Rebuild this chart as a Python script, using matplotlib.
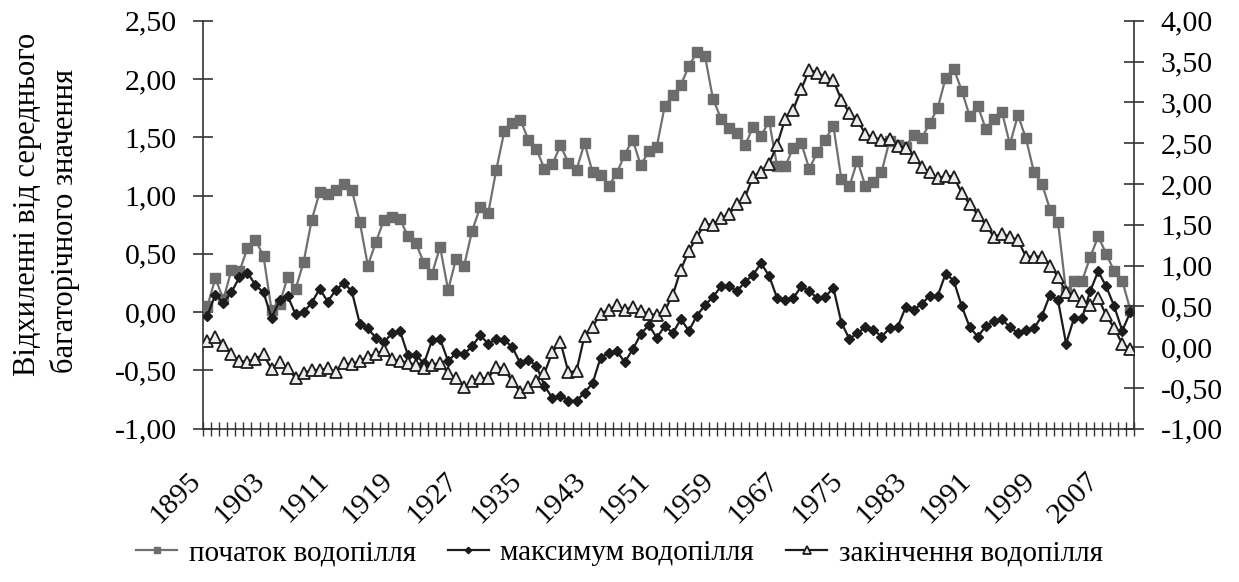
import numpy as np
import matplotlib.pyplot as plt
from matplotlib.transforms import ScaledTranslation

plt.rcParams['font.family'] = ['Liberation Serif', 'DejaVu Serif']

years = np.arange(1895, 2011)

# початок водопілля (left axis)
start = [0.05, 0.29, 0.11, 0.36, 0.35, 0.55, 0.62, 0.48, 0.02, 0.07,
         0.30, 0.20, 0.43, 0.79, 1.03, 1.01, 1.05, 1.10, 1.05, 0.77,
         0.40, 0.60, 0.79, 0.82, 0.80, 0.65, 0.59, 0.42, 0.33, 0.56,
         0.19, 0.46, 0.40, 0.70, 0.90, 0.85, 1.22, 1.55, 1.62, 1.65,
         1.48, 1.40, 1.23, 1.27, 1.43, 1.28, 1.22, 1.45, 1.20, 1.18,
         1.08, 1.19, 1.35, 1.48, 1.26, 1.38, 1.42, 1.77, 1.86, 1.95,
         2.11, 2.23, 2.20, 1.83, 1.66, 1.58, 1.54, 1.43, 1.59, 1.51,
         1.64, 1.25, 1.25, 1.41, 1.45, 1.23, 1.37, 1.48, 1.60, 1.14,
         1.08, 1.30, 1.08, 1.12, 1.20, 1.47, 1.43, 1.42, 1.52, 1.49,
         1.62, 1.75, 2.01, 2.09, 1.90, 1.68, 1.77, 1.57, 1.66, 1.72,
         1.44, 1.69, 1.49, 1.20, 1.10, 0.88, 0.77, 0.17, 0.27, 0.27,
         0.47, 0.65, 0.50, 0.35, 0.27, 0.02]

# максимум водопілля (left axis)
peak = [-0.03, 0.15, 0.08, 0.17, 0.30, 0.34, 0.23, 0.17, -0.05, 0.10,
        0.14, -0.02, 0.00, 0.08, 0.20, 0.09, 0.19, 0.25, 0.18, -0.10,
        -0.14, -0.22, -0.26, -0.18, -0.16, -0.37, -0.37, -0.44, -0.24, -0.23,
        -0.42, -0.35, -0.36, -0.29, -0.20, -0.27, -0.23, -0.24, -0.30, -0.44,
        -0.41, -0.46, -0.63, -0.74, -0.72, -0.76, -0.76, -0.69, -0.61, -0.39,
        -0.35, -0.33, -0.43, -0.32, -0.19, -0.11, -0.22, -0.12, -0.18, -0.06,
        -0.16, -0.03, 0.06, 0.13, 0.22, 0.22, 0.18, 0.26, 0.32, 0.42,
        0.31, 0.12, 0.10, 0.12, 0.22, 0.18, 0.12, 0.13, 0.21, -0.09,
        -0.23, -0.18, -0.13, -0.15, -0.21, -0.14, -0.13, 0.04, 0.02, 0.07,
        0.14, 0.14, 0.33, 0.27, 0.05, -0.13, -0.21, -0.12, -0.08, -0.06,
        -0.13, -0.18, -0.15, -0.14, -0.03, 0.15, 0.10, -0.27, -0.05, -0.05,
        0.18, 0.35, 0.22, 0.05, -0.16, 0.00]

# закінчення водопілля (right axis)
end = [0.07, 0.12, 0.03, -0.09, -0.17, -0.18, -0.14, -0.09, -0.27, -0.18,
       -0.26, -0.38, -0.32, -0.28, -0.28, -0.26, -0.31, -0.20, -0.21, -0.17,
       -0.12, -0.08, -0.04, -0.15, -0.17, -0.19, -0.22, -0.25, -0.22, -0.19,
       -0.32, -0.38, -0.49, -0.42, -0.38, -0.38, -0.24, -0.27, -0.42, -0.55,
       -0.49, -0.42, -0.32, -0.06, 0.06, -0.31, -0.29, 0.14, 0.25, 0.41,
       0.46, 0.51, 0.46, 0.49, 0.44, 0.41, 0.39, 0.45, 0.64, 0.95,
       1.18, 1.35, 1.51, 1.50, 1.58, 1.63, 1.75, 1.84, 2.09, 2.15,
       2.25, 2.48, 2.80, 2.91, 3.16, 3.40, 3.36, 3.31, 3.27, 3.03,
       2.87, 2.78, 2.61, 2.57, 2.54, 2.55, 2.47, 2.44, 2.33, 2.21,
       2.14, 2.07, 2.10, 2.09, 1.89, 1.75, 1.62, 1.50, 1.35, 1.39,
       1.35, 1.31, 1.11, 1.11, 1.11, 1.00, 0.86, 0.67, 0.64, 0.56,
       0.52, 0.60, 0.39, 0.23, 0.04, -0.02]

left_ticks = [-1.0, -0.5, 0.0, 0.5, 1.0, 1.5, 2.0, 2.5]
right_ticks = [-1.0, -0.5, 0.0, 0.5, 1.0, 1.5, 2.0, 2.5, 3.0, 3.5, 4.0]
label_step = 8

series_names = ['початок водопілля', 'максимум водопілля', 'закінчення водопілля']


def fmt(v):
    return f'{v:.2f}'.replace('.', ',')


fs = 21.5
fig = plt.figure(figsize=(12.39, 5.82), dpi=100)
ax = fig.add_axes([0.1641, 0.2634, 0.7514, 0.7010])
ax2 = ax.twinx()

x = np.arange(len(years))
axis_col = '#333333'

l1, = ax.plot(x, start, color='#707070', lw=1.6, marker='s', ms=6.5,
              mfc='#6c6c6c', mec='#6c6c6c', zorder=3)
l2, = ax.plot(x, peak, color='#1c1c1c', lw=1.6, marker='D', ms=5,
              mfc='#1c1c1c', mec='#1c1c1c', zorder=4)
l3, = ax2.plot(x, end, color='#1c1c1c', lw=1.6, marker='^', ms=8.3,
               mfc='#ececec', mec='#1c1c1c', mew=1.3, zorder=5)

ax.set_xlim(-0.5, len(years) - 0.5)
ax.set_ylim(left_ticks[0], left_ticks[-1])
ax2.set_ylim(right_ticks[0], right_ticks[-1])

for a in (ax, ax2):
    for s in a.spines.values():
        s.set_visible(False)
        s.set_color(axis_col)
        s.set_linewidth(1.2)
ax.spines['left'].set_visible(True)
ax.spines['bottom'].set_visible(True)
ax2.spines['right'].set_visible(True)

ax.set_yticks(left_ticks, [fmt(v) for v in left_ticks])
ax2.set_yticks(right_ticks, [fmt(v) for v in right_ticks])
ax.tick_params(axis='y', direction='inout', length=14, width=1.2,
               color=axis_col, labelsize=fs, pad=12)
ax2.tick_params(axis='y', direction='inout', length=14, width=1.2,
                color=axis_col, labelsize=fs, pad=12)

# category boundaries carry the tick marks, every 8th year carries a label
ax.set_xticks(np.arange(-0.5, len(years), 1.0), [''] * (len(years) + 1))
ax.set_xticks(x[::label_step], [str(y) for y in years[::label_step]], minor=True)
ax.tick_params(axis='x', which='major', direction='inout', length=10,
               width=1.0, color=axis_col)
ax.tick_params(axis='x', which='minor', length=0, labelsize=fs, pad=28)
shift = ScaledTranslation(-0.2, 0, fig.dpi_scale_trans)
for lab in ax.get_xticklabels(minor=True):
    lab.set_rotation(45)
    lab.set_ha('right')
    lab.set_va('top')
    lab.set_rotation_mode('anchor')
    lab.set_transform(lab.get_transform() + shift)

fig.text(27 / 1239, 1 - 376 / 582, 'Відхиленні від середнього', rotation=90,
         rotation_mode='anchor', ha='left', va='center', fontsize=22)
fig.text(65 / 1239, 1 - 373 / 582, 'багаторічного значення', rotation=90,
         rotation_mode='anchor', ha='left', va='center', fontsize=22)

fig.legend([l1, l2, l3], series_names, loc='center',
           bbox_to_anchor=(0.5, 1 - 553 / 582), ncol=3, frameon=False,
           fontsize=21, markerscale=0.65, handlelength=1.4,
           handletextpad=0.4, columnspacing=1.1)

fig.savefig('out.png', dpi=100)
